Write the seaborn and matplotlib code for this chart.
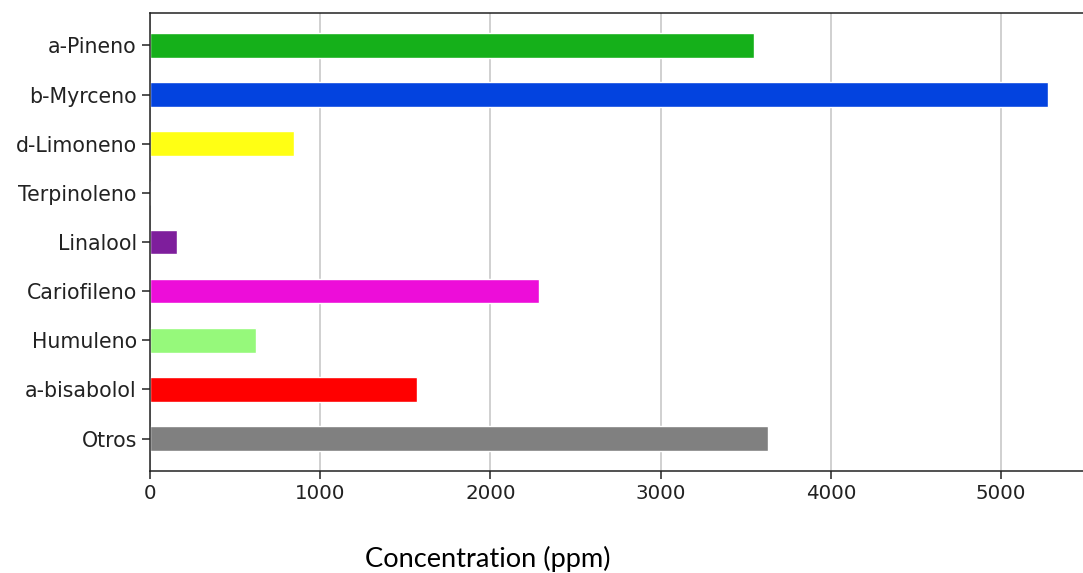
import matplotlib
matplotlib.use("Agg")
import matplotlib.pyplot as plt
import pandas as pd
import seaborn as sns

# terpene profile, values
compounds = ['a-Pineno', 'b-Myrceno', 'd-Limoneno', 'Terpinoleno', 'Linalool',
             'Cariofileno', 'Humuleno', 'a-bisabolol', 'Otros']
ppm = [3547, 5276, 847, 0, 159, 2288, 624, 1571, 3629]
bar_colors = ['#15b01a', '#0343df', '#ffff14', '#ffffff', '#7e1e9c',
              '#ed0dd9', '#96f97b', '#ff0000', '#808080']

df = pd.DataFrame({'compound': compounds, 'ppm': ppm})

sns.set_style('white')
plt.rcParams['font.family'] = ['DejaVu Sans']

fig = plt.figure(figsize=(10.83, 5.73), dpi=100)
ax = fig.add_axes([150 / 1083, 1 - 471 / 573, 943 / 1083, 458 / 573])

sns.barplot(data=df, x='ppm', y='compound', hue='compound', palette=bar_colors,
            orient='h', width=0.5, legend=False, saturation=1, ax=ax)

ax.set_xlim(0, 5540)
ax.set_ylim(len(compounds) - 1 + 0.66, -0.66)
ax.set_xticks([0, 1000, 2000, 3000, 4000, 5000])
ax.set_xlabel('')
ax.set_ylabel('')
ax.xaxis.grid(True, color='#c8c8c8', linewidth=1.2)
ax.set_axisbelow(True)
ax.tick_params(axis='both', labelsize=14.3, colors='#222222', length=5.5,
               width=1.1, pad=4.0, left=True, bottom=True)
ax.tick_params(axis='y', labelsize=14.8)
for side in ['left', 'top', 'bottom', 'right']:
    ax.spines[side].set_color('#222222')
    ax.spines[side].set_linewidth(1.1)

fig.text(488 / 1083, 1 - 559 / 573, 'Concentration (ppm)', ha='center', va='center',
         fontsize=19.6, family=['Lato', 'DejaVu Sans'], color='black')

fig.savefig('out.png', dpi=100)
